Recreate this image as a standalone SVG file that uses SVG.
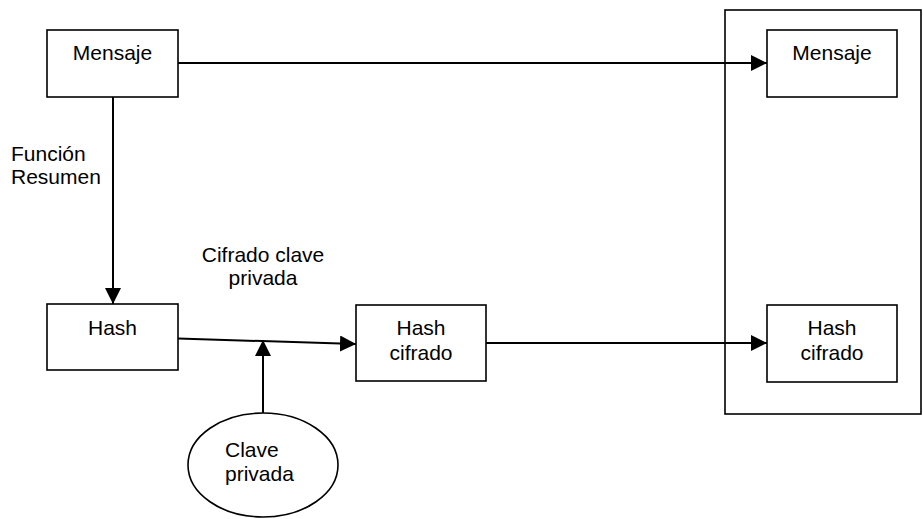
<svg xmlns="http://www.w3.org/2000/svg" width="923" height="519" viewBox="0 0 923 519">
<defs>
<style>
.box{fill:#fff;stroke:#000;stroke-width:1.6}
.frame{fill:none;stroke:#000;stroke-width:1.6}
.line{fill:none;stroke:#000;stroke-width:2}
text{font-family:"Liberation Sans",Arial,sans-serif;font-size:21px;fill:#000}
.c{text-anchor:middle}
</style>
<marker id="ah" markerWidth="16" markerHeight="16" viewBox="0 0 16 16" refX="16" refY="8" orient="auto" markerUnits="userSpaceOnUse">
<path d="M0,0 L16,8 L0,16 Z" fill="#000"/>
</marker>
</defs>
<rect id="frame" class="frame" x="725" y="10" width="196" height="404"/>
<g id="mensaje1"><rect class="box" x="47" y="30" width="131" height="67"/><text class="c" x="112.5" y="60">Mensaje</text></g>
<g id="hash"><rect class="box" x="47" y="304" width="131" height="66"/><text class="c" x="112.5" y="335">Hash</text></g>
<g id="hashcifrado1"><rect class="box" x="356" y="305" width="130" height="76"/><text class="c" x="421" y="335">Hash</text><text class="c" x="421" y="360">cifrado</text></g>
<g id="mensaje2"><rect class="box" x="767" y="30" width="130" height="67"/><text class="c" x="832" y="60">Mensaje</text></g>
<g id="hashcifrado2"><rect class="box" x="767" y="305" width="130" height="77"/><text class="c" x="832" y="335">Hash</text><text class="c" x="832" y="360">cifrado</text></g>
<g id="clave"><ellipse class="box" cx="263" cy="465" rx="75" ry="52"/><text x="225" y="457">Clave</text><text x="225" y="481">privada</text></g>
<g id="connectors">
<line class="line" x1="178" y1="63" x2="767" y2="63" marker-end="url(#ah)"/>
<line class="line" x1="113" y1="97" x2="113" y2="304" marker-end="url(#ah)"/>
<line class="line" x1="178" y1="338.5" x2="356" y2="344" marker-end="url(#ah)"/>
<line class="line" x1="263" y1="413" x2="263" y2="340" marker-end="url(#ah)"/>
<line class="line" x1="486" y1="343" x2="767" y2="343" marker-end="url(#ah)"/>
</g>
<g id="labels">
<text x="11" y="161">Función</text>
<text x="11" y="184">Resumen</text>
<text class="c" x="263" y="262">Cifrado clave</text>
<text class="c" x="263" y="285">privada</text>
</g>
</svg>
